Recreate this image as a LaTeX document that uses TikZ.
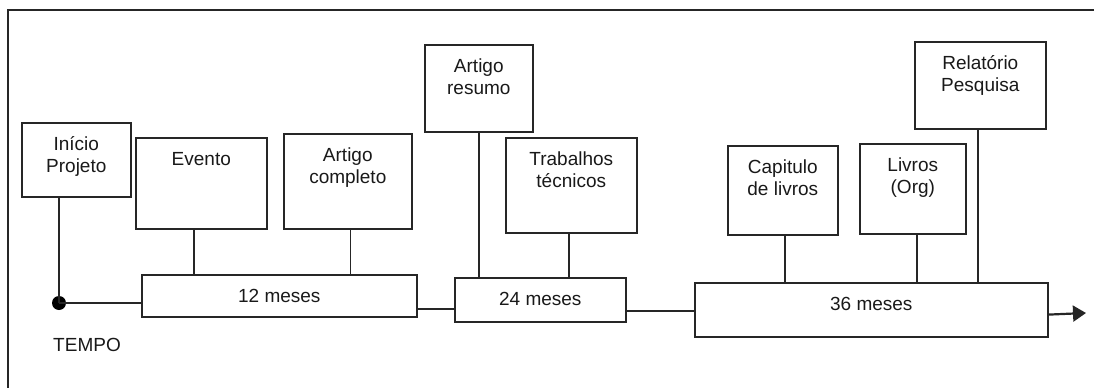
\documentclass[tikz,border=0pt]{standalone}
\usepackage{fontspec}
\setmainfont{Liberation Sans}
\usetikzlibrary{calc,arrows.meta}
\newcommand\twoline[2]{\begin{tabular}[t]{@{}c@{}}#1\\#2\end{tabular}}
\tikzset{
  line/.style={line width=1.6pt, draw=black!85},
  box/.style={line, rectangle, anchor=north west, inner sep=0pt,
    text height=28pt, font=\fontsize{19}{22}\selectfont, text=black!90},
  lbl/.style={font=\fontsize{19}{22}\selectfont, text=black!90, inner sep=0pt}
}
\begin{document}
\begin{tikzpicture}[x=1pt,y=-1pt]
\useasboundingbox (0,0) rectangle (1096,388);
% frame
\draw[line] (1094,10) -- (8,10) -- (8,388);
% boxes
\node[box, minimum width=109pt, text depth=46pt] (ip) at (21,122) {\twoline{Início}{Projeto}};
\node[box, minimum width=131pt, text depth=63pt] (ev) at (135,137) {Evento};
\node[box, minimum width=128pt, text depth=67pt] (ac) at (283,133) {\twoline{Artigo}{completo}};
\node[box, minimum width=108pt, text depth=59pt] (ar) at (424,44) {\twoline{Artigo}{resumo}};
\node[box, minimum width=131pt, text depth=67pt] (tt) at (505,137) {\twoline{Trabalhos}{técnicos}};
\node[box, minimum width=110pt, text depth=61pt] (cl) at (727,145) {\twoline{Capitulo}{de livros}};
\node[box, minimum width=106pt, text depth=62pt] (lv) at (859,143) {\twoline{Livros}{(Org)}};
\node[box, minimum width=131pt, text depth=59pt] (rp) at (914,41) {\twoline{Relatório}{Pesquisa}};
\node[box, minimum width=275pt, text depth=14pt] (m12) at (141,274) {12 meses};
\node[box, minimum width=171pt, text depth=16pt] (m24) at (454,277) {24 meses};
\node[box, minimum width=353pt, text depth=26pt] (m36) at (694,282) {36 meses};
% start dot and label
\node[circle, fill=black, inner sep=0pt, minimum size=14pt] (dot) at (59,303) {};
\node[lbl, anchor=base] (tempo) at (87,351) {TEMPO};
% timeline
\draw[line, line width=2pt] (dot.center) -- (m12.west |- dot);
\draw[line, line width=2pt] ($(m12.south east)+(0,-9)$) -- ($(m24.south west)+(0,-14)$);
\draw[line, line width=2pt] ($(m24.south east)+(0,-12)$) -- ($(m36.south west)+(0,-27)$);
\coordinate (end) at (1086,313);
\draw[line, line width=2.2pt, -{Triangle[length=13pt,width=16pt]}] ($(m36.south east)+(0,-23)$) -- (end);
% vertical connectors
\draw[line] (dot |- ip.south) -- (dot.center);
\draw[line] ($(ev.south)+(-7.5,0)$) coordinate (c1) -- (c1 |- m12.north);
\draw[line] ($(ac.south)+(2.5,0)$) coordinate (c2) -- (c2 |- m12.north);
\draw[line] (ar.south) -- (ar.south |- m24.north);
\draw[line] ($(tt.south)+(-2.5,0)$) coordinate (c3) -- (c3 |- m24.north);
\draw[line] ($(cl.south)+(2,0)$) coordinate (c4) -- (c4 |- m36.north);
\draw[line] ($(lv.south)+(4,0)$) coordinate (c5) -- (c5 |- m36.north);
\draw[line] ($(rp.south)+(-2.5,0)$) coordinate (c6) -- (c6 |- m36.north);
\end{tikzpicture}
\end{document}
